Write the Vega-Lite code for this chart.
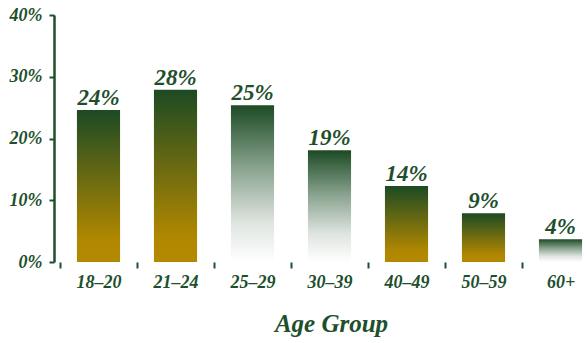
{
  "$schema": "https://vega.github.io/schema/vega-lite/v6.json",
  "width": 533,
  "height": 247,
  "autosize": {"type": "none"},
  "padding": {"left": 54, "top": 15, "right": 0, "bottom": 81},
  "background": "white",
  "config": {"view": {"stroke": null}},
  "data": {
    "values": [
      {"group": "18–20", "value": 0.246, "label": "24%", "style": "gold"},
      {"group": "21–24", "value": 0.279, "label": "28%", "style": "gold"},
      {"group": "25–29", "value": 0.254, "label": "25%", "style": "white"},
      {"group": "30–39", "value": 0.181, "label": "19%", "style": "white"},
      {"group": "40–49", "value": 0.123, "label": "14%", "style": "gold"},
      {"group": "50–59", "value": 0.079, "label": "9%", "style": "gold"},
      {"group": "60+", "value": 0.037, "label": "4%", "style": "white"}
    ]
  },
  "encoding": {
    "x": {
      "field": "group",
      "type": "nominal",
      "sort": ["18–20", "21–24", "25–29", "30–39", "40–49", "50–59", "60+"],
      "scale": {"type": "band", "range": [6, 545], "paddingInner": 0, "paddingOuter": 0},
      "axis": {
        "title": "Age Group",
        "domain": false,
        "tickBand": "extent",
        "ticks": true,
        "tickSize": 6,
        "tickWidth": 2,
        "tickColor": "#1e4f2c",
        "labelAngle": 0,
        "labelFont": "Liberation Serif",
        "labelFontStyle": "italic",
        "labelFontWeight": "bold",
        "labelFontSize": 18,
        "labelColor": "#1e4f2c",
        "labelPadding": 5,
        "titleFont": "Liberation Serif",
        "titleFontStyle": "italic",
        "titleFontWeight": "bold",
        "titleFontSize": 25,
        "titleColor": "#1e4f2c",
        "titlePadding": 20,
        "titleX": 277,
        "titleAlign": "center",
        "titleAnchor": null
      }
    },
    "y": {
      "field": "value",
      "type": "quantitative",
      "scale": {"domain": [0, 0.4], "nice": false},
      "axis": {
        "title": null,
        "format": ".0%",
        "values": [0, 0.1, 0.2, 0.3, 0.4],
        "grid": false,
        "domainColor": "#1e4f2c",
        "domainWidth": 2.5,
        "tickColor": "#1e4f2c",
        "tickWidth": 2,
        "tickSize": 5,
        "labelFont": "Liberation Serif",
        "labelFontStyle": "italic",
        "labelFontWeight": "bold",
        "labelFontSize": 18,
        "labelColor": "#1e4f2c",
        "labelPadding": 7
      }
    }
  },
  "layer": [
    {
      "transform": [{"filter": "datum.style === 'gold'"}],
      "mark": {
        "type": "bar",
        "width": {"band": 0.56},
        "color": {
          "gradient": "linear",
          "x1": 0, "y1": 0, "x2": 0, "y2": 1,
          "stops": [
            {"offset": 0, "color": "#1c4a24"},
            {"offset": 0.85, "color": "#b08700"},
            {"offset": 1, "color": "#b38900"}
          ]
        }
      }
    },
    {
      "transform": [{"filter": "datum.style === 'white'"}],
      "mark": {
        "type": "bar",
        "width": {"band": 0.56},
        "color": {
          "gradient": "linear",
          "x1": 0, "y1": 0, "x2": 0, "y2": 1,
          "stops": [
            {"offset": 0, "color": "#1c4a24"},
            {"offset": 0.4, "color": "#8aa38f"},
            {"offset": 0.75, "color": "#dfe5e0"},
            {"offset": 1, "color": "#ffffff"}
          ]
        }
      }
    },
    {
      "mark": {
        "type": "text",
        "baseline": "alphabetic",
        "dy": -5,
        "font": "Liberation Serif",
        "fontStyle": "italic",
        "fontWeight": "bold",
        "fontSize": 23,
        "color": "#1e4f2c"
      },
      "encoding": {"text": {"field": "label"}}
    },
    {
      "data": {"values": [{"base": 0}]},
      "mark": {"type": "rule", "color": "#1e4f2c", "strokeWidth": 2.5},
      "encoding": {"y": {"datum": 0}, "x": null}
    }
  ]
}
